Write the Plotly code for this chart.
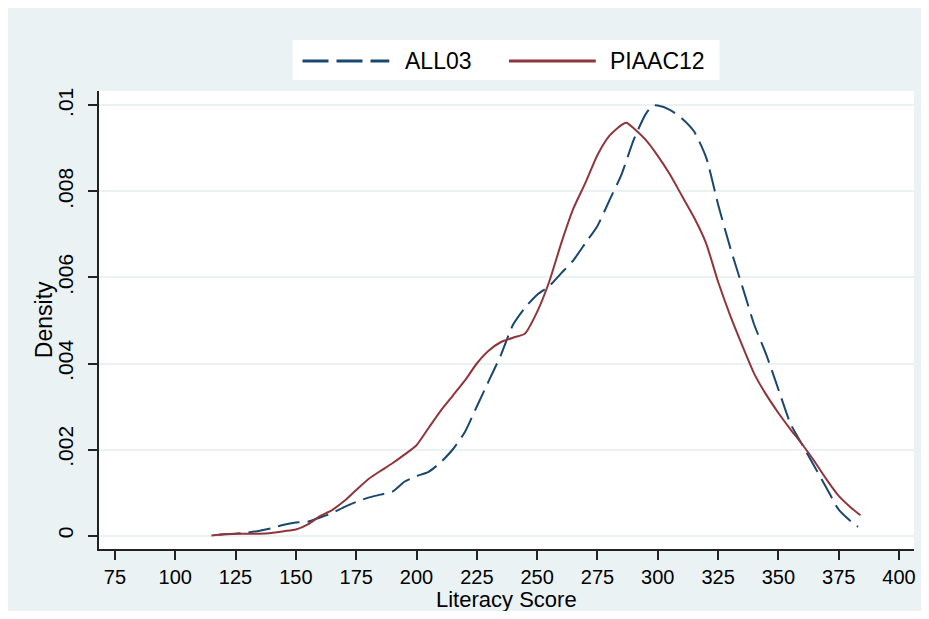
import plotly.graph_objects as go

# ---- data ----
piaac_x = [115, 120, 125, 130, 135, 140, 145, 150, 155, 160, 165, 170, 175, 180, 185, 190, 195,
           200, 205, 210, 215, 220, 225, 230, 235, 240, 245, 250, 255, 260, 265, 270, 275, 280,
           285, 287, 290, 295, 300, 305, 310, 315, 320, 325, 330, 335, 340, 345, 350, 355, 360,
           365, 370, 375, 380, 384]
piaac_y = [0.0, 0.00003, 0.00004, 0.00004, 0.00004, 0.00006, 0.0001, 0.00014, 0.00026, 0.00045,
           0.00059, 0.0008, 0.00106, 0.00131, 0.0015, 0.00168, 0.00188,
           0.0021, 0.0025, 0.0029, 0.00325, 0.0036, 0.004, 0.0043, 0.0045, 0.0046, 0.0047,
           0.0052, 0.0059, 0.0068, 0.0076, 0.0082, 0.00885, 0.0093,
           0.00955, 0.0096, 0.00947, 0.0092, 0.00883, 0.0084, 0.0079, 0.0074, 0.0068, 0.0059,
           0.00512, 0.00442, 0.00376, 0.00327, 0.00285, 0.00247, 0.00211,
           0.00172, 0.0013, 0.00092, 0.00065, 0.00047]

all_x = [118, 125, 130, 135, 140, 145, 150, 155, 160, 165, 170, 175, 180, 185, 190, 195, 200,
         205, 210, 215, 220, 225, 230, 235, 240, 245, 250, 255, 260, 265, 270, 275, 280, 285,
         290, 295, 298, 300, 305, 310, 315, 320, 325, 330, 335, 340, 345, 350, 355, 360, 365,
         370, 375, 380, 383]
all_y = [0.00002, 0.00004, 0.00007, 0.00011, 0.00017, 0.00025, 0.0003, 0.00032, 0.00042, 0.00052,
         0.00066, 0.00078, 0.00088, 0.00095, 0.00102, 0.00125, 0.00138,
         0.00148, 0.0017, 0.002, 0.0024, 0.003, 0.0036, 0.0042, 0.0049, 0.0053, 0.0056, 0.0058,
         0.0061, 0.0064, 0.0068, 0.0072, 0.0078, 0.0084,
         0.0092, 0.0098, 0.0100, 0.0100, 0.0099, 0.0097, 0.0094, 0.0088, 0.0077, 0.0067, 0.0058,
         0.0049, 0.0042, 0.0034, 0.0026, 0.0021, 0.0016,
         0.0011, 0.0006, 0.00033, 0.0002]

x_ticks = [75, 100, 125, 150, 175, 200, 225, 250, 275, 300, 325, 350, 375, 400]
y_ticks = [0, 0.002, 0.004, 0.006, 0.008, 0.01]
y_tick_text = ["0", ".002", ".004", ".006", ".008", ".01"]
series_names = ["ALL03", "PIAAC12"]

BLUE = "#1A476F"
RED = "#90353B"
BG = "#EAF2F3"
FONT = "Liberation Sans, Arial, sans-serif"

# page body has an 8px margin; figure sits at (8, 8) on screen
OFF = 8
W, H = 913, 603
ML, MR, MT, MB = 91, 5, 83, 62
PW = W - ML - MR
PH = H - MT - MB


def px(xs):
    """screen x pixel -> paper fraction"""
    return (xs - OFF - ML) / PW


def py(ys):
    """screen y pixel -> paper fraction"""
    return (H - MB - (ys - OFF)) / PH


fig = go.Figure()
fig.add_trace(go.Scatter(x=all_x, y=all_y, mode="lines", name=series_names[0],
                         line=dict(color=BLUE, width=2, dash="22px,8px",
                                   shape="spline", smoothing=0.6),
                         showlegend=False))
fig.add_trace(go.Scatter(x=piaac_x, y=piaac_y, mode="lines", name=series_names[1],
                         line=dict(color=RED, width=2, shape="spline", smoothing=0.6),
                         showlegend=False))

shapes = [
    dict(type="rect", xref="paper", yref="paper", x0=px(293), x1=px(721), y0=py(80), y1=py(40),
         fillcolor="white", line=dict(width=0), layer="above"),
    dict(type="line", xref="paper", yref="paper", x0=px(303), x1=px(390), y0=py(61), y1=py(61),
         line=dict(color=BLUE, width=3, dash="26px,8px"), layer="above"),
    dict(type="line", xref="paper", yref="paper", x0=px(510), x1=px(597), y0=py(61), y1=py(61),
         line=dict(color=RED, width=3), layer="above"),
]

annotations = [
    dict(text=series_names[0], xref="paper", yref="paper", x=px(404), y=py(61),
         xanchor="left", yanchor="middle", showarrow=False,
         font=dict(family=FONT, size=23, color="#000")),
    dict(text=series_names[1], xref="paper", yref="paper", x=px(609), y=py(61),
         xanchor="left", yanchor="middle", showarrow=False,
         font=dict(family=FONT, size=23, color="#000")),
    dict(text="Literacy Score", xref="paper", yref="paper", x=px(507.5), y=py(599.5),
         xanchor="center", yanchor="middle", showarrow=False, borderpad=0,
         font=dict(family=FONT, size=22, color="#000")),
    dict(text="Density", xref="paper", yref="paper", x=px(44), y=py(320),
         xanchor="center", yanchor="middle", showarrow=False, textangle=-90,
         font=dict(family=FONT, size=23, color="#000")),
]

fig.update_layout(
    width=W, height=H,
    margin=dict(l=ML, r=MR, t=MT, b=MB),
    paper_bgcolor=BG,
    plot_bgcolor="white",
    shapes=shapes,
    annotations=annotations,
    showlegend=False,
    font=dict(family=FONT, size=20, color="#000"),
)

fig.update_xaxes(
    range=[68.4, 406.2], tickvals=x_ticks, ticktext=[str(v) for v in x_ticks],
    showgrid=False, zeroline=False,
    showline=True, linecolor="#222", linewidth=1.5,
    ticks="outside", ticklen=9, tickwidth=1.5, tickcolor="#222",
    tickfont=dict(family=FONT, size=20, color="#000"),
    ticklabelstandoff=0,
)
fig.update_yaxes(
    range=[-0.000314, 0.010337], tickvals=y_ticks, ticktext=y_tick_text,
    showgrid=True, gridcolor=BG, gridwidth=2, zeroline=False,
    showline=True, linecolor="#222", linewidth=1.5,
    ticks="outside", ticklen=9, tickwidth=1.5, tickcolor="#222",
    tickangle=-90,
    tickfont=dict(family=FONT, size=21, color="#000"),
    ticklabelstandoff=7,
)

fig.write_html("out.html")
